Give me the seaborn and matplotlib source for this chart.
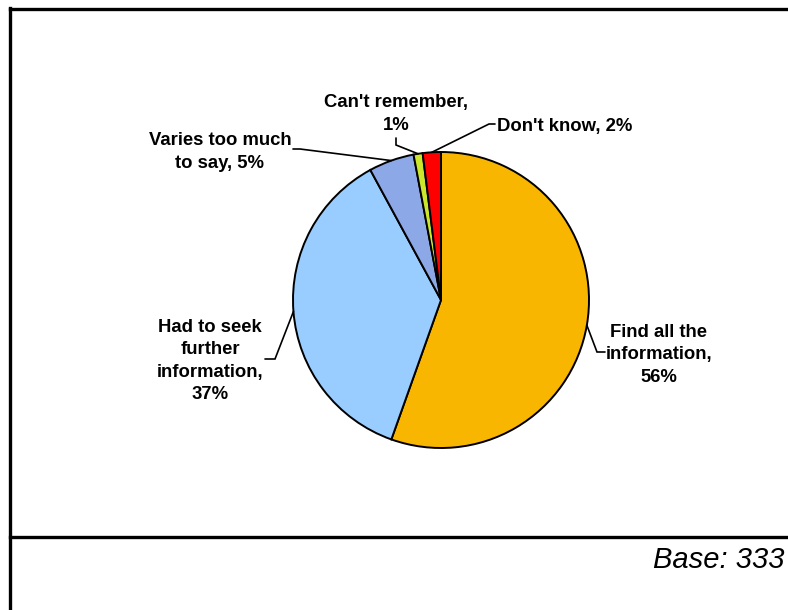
import numpy as np
import matplotlib
matplotlib.use('Agg')
import matplotlib.pyplot as plt
import seaborn as sns

# Data
categories = ["Find all the\ninformation,", "Had to seek\nfurther\ninformation,",
              "Varies too much\nto say,", "Can't remember,", "Don't know,"]
percent = [56, 37, 5, 1, 2]
label_sep = ['\n', '\n', ' ', '\n', ' ']
colors = ['#F8B600', '#99CCFF', '#8DA8E6', '#CCE62E', '#FF0000']

sns.set_style('white')
plt.rcParams['font.family'] = ['Liberation Sans', 'DejaVu Sans']

W, H = 788, 610
fig = plt.figure(figsize=(W / 100, H / 100), dpi=100)
ax = fig.add_axes([0, 0, 1, 1])

# image pixel coords -> data coords (y up)
def P(x, y):
    return (x, H - y)

cx, cy = P(441, 300)
radius = 148

wedges, _ = ax.pie(percent, colors=colors, startangle=90, counterclock=False,
                   center=(cx, cy), radius=radius,
                   wedgeprops=dict(edgecolor='black', linewidth=1.4))

ax.set_xlim(0, W)
ax.set_ylim(0, H)
ax.set_aspect('equal')
ax.axis('off')

# label text position and leader elbow points
label_pos = [(659, 355, 'center'), (210, 361, 'center'), (220, 152, 'center'),
             (396, 114, 'center'), (497, 127, 'left')]
elbows = [[(605, 352), (597, 352)], [(265, 359), (275, 359)],
          [(293, 149), (300, 149)], [(396, 138), (396, 145)],
          [(495, 124), (489, 124)]]

for w, cat, pct, sep, (tx, ty, ha), elb in zip(wedges, categories, percent, label_sep, label_pos, elbows):
    mid = np.deg2rad((w.theta1 + w.theta2) / 2)
    ax_x = cx + radius * np.cos(mid)
    ax_y = cy + radius * np.sin(mid)
    txt = cat + sep + f'{pct}%'
    ax.text(*P(tx, ty), txt, ha=ha, va='center', fontsize=13.3, fontweight='bold',
            color='black', linespacing=1.4, multialignment='center')
    xs = [elb[0][0], elb[1][0], ax_x]
    ys = [H - elb[0][1], H - elb[1][1], ax_y]
    ax.plot(xs, ys, color='black', linewidth=1.2, solid_joinstyle='miter')

# frame lines
ax.plot([10, 10], [H - 8, 0], color='black', linewidth=2.4, solid_capstyle='projecting')
ax.plot([10, W], [H - 9, H - 9], color='black', linewidth=2.4, solid_capstyle='projecting')
ax.plot([10, W], [H - 537, H - 537], color='black', linewidth=2.4, solid_capstyle='projecting')

ax.text(*P(785, 560), 'Base: 333', ha='right', va='center', fontsize=21,
        style='italic', color='black')

fig.savefig('out.png', dpi=100)
